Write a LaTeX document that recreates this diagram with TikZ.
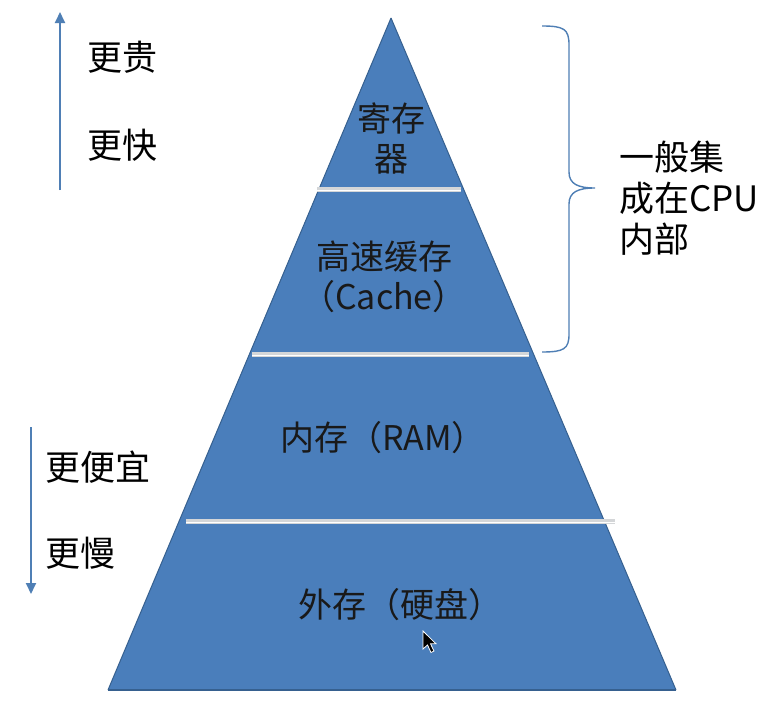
\documentclass[tikz,border=0pt]{standalone}
\usepackage{fontspec}
\setmainfont{Noto Sans CJK SC}
\usetikzlibrary{arrows.meta}
\definecolor{pyrblue}{HTML}{4A7EBB}
\definecolor{pyredge}{HTML}{36608F}
\definecolor{bargray}{HTML}{D4D6D8}
\definecolor{arrblue}{HTML}{4F7FB5}
\begin{document}
\begin{tikzpicture}[x=1pt,y=-1pt,
  lbl/.style={inner sep=0pt,text=black!90,font=\fontsize{34}{40}\selectfont,align=center},
  sidelbl/.style={inner sep=0pt,text=black,font=\fontsize{35}{41}\selectfont,align=left,anchor=west},
  sepbar/.style={line width=5pt,bargray},
  sephi/.style={line width=1pt,white},
  sidearrow/.style={line width=1.8pt,arrblue,-{Triangle[length=11pt,width=10pt]}}]
\useasboundingbox[fill=white] (0,0) rectangle (762,712);
% pyramid
\coordinate (apex) at (391,18);
\coordinate (bl) at (108,690);
\coordinate (br) at (676,690);
\fill[pyrblue] (apex) -- (br) -- (bl) -- cycle;
\draw[pyredge,line width=1pt] (apex) -- (br);
\draw[pyredge,line width=1pt] (apex) -- (bl);
\draw[pyredge,line width=2.5pt] (bl) -- (br);
% separators
\coordinate (s1a) at (317,189); \coordinate (s1b) at (461,189);
\coordinate (s2a) at (252,354); \coordinate (s2b) at (529,354);
\coordinate (s3a) at (186,521); \coordinate (s3b) at (615,521);
\foreach \a/\b in {s1a/s1b,s2a/s2b,s3a/s3b}{
  \draw[sepbar] (\a) -- (\b);
  \draw[sephi] ([yshift=-1.5pt]\a) -- ([yshift=-1.5pt]\b);
}
% pyramid labels
\node[lbl] (reg) at (391,138) {寄存\\器};
\node[lbl] (cache) at (384,277) {高速缓存\\（Cache）};
\node[lbl] (ram) at (383,438) {内存（RAM）};
\node[lbl] (disk) at (400,605) {外存（硬盘）};
% left arrows and labels
\coordinate (upS) at (60,190);
\coordinate (upE) at (60,12);
\draw[sidearrow] (upS) -- (upE);
\node[sidelbl] (gui) at (87,57) {更贵};
\node[sidelbl] (kuai) at (87,145) {更快};
\coordinate (dnS) at (31,427);
\coordinate (dnE) at (31,594);
\draw[sidearrow] (dnS) -- (dnE);
\node[sidelbl] (pianyi) at (45,467) {更便宜};
\node[sidelbl] (man) at (45,553) {更慢};
% brace
\coordinate (bt) at (542,26);
\coordinate (btip) at (595,188);
\coordinate (bb) at (542,352);
\draw[arrblue,line width=1.4pt] (bt) .. controls (564,26) and (569,29) .. (569,45)
  -- (569,172) .. controls (569,184) and (578,188) .. (btip)
  .. controls (578,188) and (569,192) .. (569,204)
  -- (569,334) .. controls (569,349) and (564,352) .. (bb);
\node[sidelbl] (cpu) at (619,198) {一般集\\成在CPU\\内部};
% mouse cursor
\coordinate (cur) at (423,631);
\filldraw[fill=black,draw=white,line width=0.8pt,shift={(cur)}]
  (0,0) -- (0,18) -- (4.5,14) -- (8,21.5) -- (11,20) -- (7.5,12.8) -- (13,12.8) -- cycle;
\end{tikzpicture}
\end{document}
